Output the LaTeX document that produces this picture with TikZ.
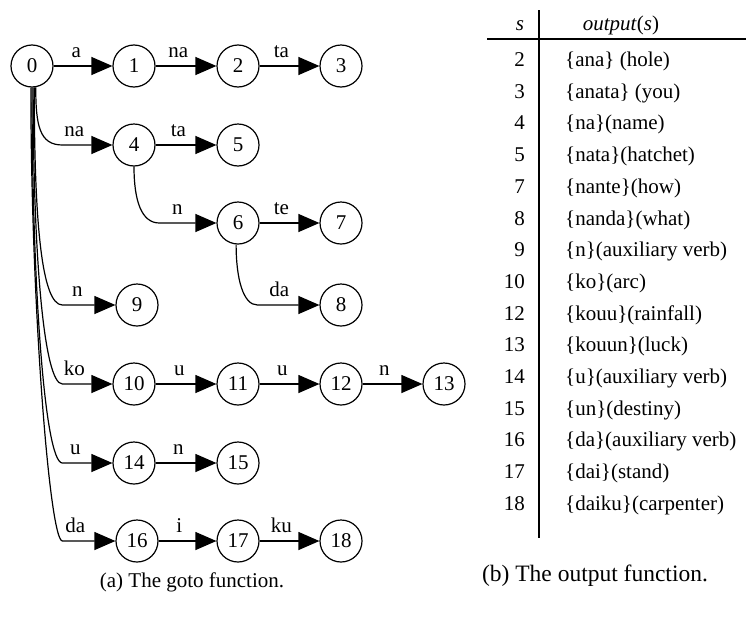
\documentclass[tikz,border=0pt]{standalone}
\usepackage{fontspec}
\setmainfont{Liberation Serif}
\usetikzlibrary{arrows.meta,calc}
\newcommand\bigfs{\fontsize{21}{25}\selectfont}
\newcommand\capbfs{\fontsize{23.5}{28}\selectfont}
\tikzset{
  st/.style={circle, draw, line width=1.2pt, minimum size=42pt, inner sep=0pt, font=\bigfs},
  edge/.style={line width=1.2pt, -{Triangle[length=21pt,width=18pt]}},
  lbl/.style={anchor=base, inner sep=0pt, font=\bigfs},
  tbl/.style={line width=1.5pt},
  cell/.style={inner sep=0pt, font=\bigfs},
}
\begin{document}
\begin{tikzpicture}[x=1pt,y=-1pt]
\useasboundingbox (0,0) rectangle (746,624);
% states
\node[st] (n0) at (32,66) {0};
\node[st] (n1) at (134,66) {1};
\node[st] (n2) at (238,66) {2};
\node[st] (n3) at (341,66) {3};
\node[st] (n4) at (134,145) {4};
\node[st] (n5) at (238,145) {5};
\node[st] (n6) at (238,223) {6};
\node[st] (n7) at (341,223) {7};
\node[st] (n9) at (137,305) {9};
\node[st] (n8) at (341,305) {8};
\node[st] (n10) at (134,384) {10};
\node[st] (n11) at (238,384) {11};
\node[st] (n12) at (341,384) {12};
\node[st] (n13) at (444,384) {13};
\node[st] (n14) at (134,463) {14};
\node[st] (n15) at (238,463) {15};
\node[st] (n16) at (137,541) {16};
\node[st] (n17) at (238,541) {17};
\node[st] (n18) at (341,541) {18};
% straight edges
\draw[edge] (n0) -- (n1);   \node[lbl] (l01) at ($(n1.west)+(-36,-9)$) {a};
\draw[edge] (n1) -- (n2);   \node[lbl] (l12) at ($(n2.west)+(-38,-9)$) {na};
\draw[edge] (n2) -- (n3);   \node[lbl] (l23) at ($(n3.west)+(-38,-9)$) {ta};
\draw[edge] (n4) -- (n5);   \node[lbl] (l45) at ($(n5.west)+(-38,-9)$) {ta};
\draw[edge] (n6) -- (n7);   \node[lbl] (l67) at ($(n7.west)+(-38,-9)$) {te};
\draw[edge] (n10) -- (n11); \node[lbl] (l1011) at ($(n11.west)+(-37,-9)$) {u};
\draw[edge] (n11) -- (n12); \node[lbl] (l1112) at ($(n12.west)+(-37,-9)$) {u};
\draw[edge] (n12) -- (n13); \node[lbl] (l1213) at ($(n13.west)+(-38,-9)$) {n};
\draw[edge] (n14) -- (n15); \node[lbl] (l1415) at ($(n15.west)+(-38,-9)$) {n};
\draw[edge] (n16) -- (n17); \node[lbl] (l1617) at ($(n17.west)+(-37,-9)$) {i};
\draw[edge] (n17) -- (n18); \node[lbl] (l1718) at ($(n18.west)+(-38,-9)$) {ku};
% curved edges
\coordinate (c4) at ($(n4.west)+(-50,0)$);
\coordinate (c6) at ($(n6.west)+(-57,0)$);
\coordinate (c8) at ($(n8.west)+(-62,0)$);
\coordinate (c9) at ($(n9.west)+(-53,0)$);
\coordinate (c10) at ($(n10.west)+(-50,0)$);
\coordinate (c14) at ($(n14.west)+(-50,0)$);
\coordinate (c16) at ($(n16.west)+(-53,0)$);
\draw[edge] (n0.-80) .. controls +(0,38) and +(-23,0) .. (c4) -- (n4.west);
\draw[edge] (n4.-90) .. controls +(0,34) and +(-18,0) .. (c6) -- (n6.west);
\draw[edge] (n6.-95) .. controls +(0,35) and +(-14,0) .. (c8) -- (n8.west);
\draw[edge] (n0.-84) .. controls +(0,133) and +(-21,0) .. (c9) -- (n9.west);
\draw[edge] (n0.-87) .. controls +(0,163) and +(-19,0) .. (c10) -- (n10.west);
\draw[edge] (n0.-90) .. controls +(0,193) and +(-18,0) .. (c14) -- (n14.west);
\draw[edge] (n0.-93) .. controls +(0,213) and +(-13,0) .. (c16) -- (n16.west);
\node[lbl] (l04) at ($(n4.west)+(-38,-9)$) {na};
\node[lbl] (l46) at ($(n6.west)+(-39,-9)$) {n};
\node[lbl] (l68) at ($(n8.west)+(-40,-9)$) {da};
\node[lbl] (l09) at ($(n9.west)+(-38,-9)$) {n};
\node[lbl] (l010) at ($(n10.west)+(-38,-9)$) {ko};
\node[lbl] (l014) at ($(n14.west)+(-37,-9)$) {u};
\node[lbl] (l016) at ($(n16.west)+(-40,-9)$) {da};
% table
\draw[tbl] (539,10) -- (539,538);
\draw[tbl] (487,39) -- (746,39);
\node[cell, anchor=base] (hs) at (520,30) {\textit{s}};
\node[cell, anchor=base] (ho) at (621,30) {\textit{output}(\textit{s})};
\node[cell, anchor=base east] (s0) at (525,66.5) {2};
\node[cell, anchor=base west] (o0) at (565,66.5) {\{ana\} (hole)};
\node[cell, anchor=base east] (s1) at (525,98.2) {3};
\node[cell, anchor=base west] (o1) at (565,98.2) {\{anata\} (you)};
\node[cell, anchor=base east] (s2) at (525,129.9) {4};
\node[cell, anchor=base west] (o2) at (565,129.9) {\{na\}(name)};
\node[cell, anchor=base east] (s3) at (525,161.6) {5};
\node[cell, anchor=base west] (o3) at (565,161.6) {\{nata\}(hatchet)};
\node[cell, anchor=base east] (s4) at (525,193.3) {7};
\node[cell, anchor=base west] (o4) at (565,193.3) {\{nante\}(how)};
\node[cell, anchor=base east] (s5) at (525,225.0) {8};
\node[cell, anchor=base west] (o5) at (565,225.0) {\{nanda\}(what)};
\node[cell, anchor=base east] (s6) at (525,256.7) {9};
\node[cell, anchor=base west] (o6) at (565,256.7) {\{n\}(auxiliary verb)};
\node[cell, anchor=base east] (s7) at (525,288.4) {10};
\node[cell, anchor=base west] (o7) at (565,288.4) {\{ko\}(arc)};
\node[cell, anchor=base east] (s8) at (525,320.1) {12};
\node[cell, anchor=base west] (o8) at (565,320.1) {\{kouu\}(rainfall)};
\node[cell, anchor=base east] (s9) at (525,351.8) {13};
\node[cell, anchor=base west] (o9) at (565,351.8) {\{kouun\}(luck)};
\node[cell, anchor=base east] (s10) at (525,383.5) {14};
\node[cell, anchor=base west] (o10) at (565,383.5) {\{u\}(auxiliary verb)};
\node[cell, anchor=base east] (s11) at (525,415.2) {15};
\node[cell, anchor=base west] (o11) at (565,415.2) {\{un\}(destiny)};
\node[cell, anchor=base east] (s12) at (525,446.9) {16};
\node[cell, anchor=base west] (o12) at (565,446.9) {\{da\}(auxiliary verb)};
\node[cell, anchor=base east] (s13) at (525,478.6) {17};
\node[cell, anchor=base west] (o13) at (565,478.6) {\{dai\}(stand)};
\node[cell, anchor=base east] (s14) at (525,510.3) {18};
\node[cell, anchor=base west] (o14) at (565,510.3) {\{daiku\}(carpenter)};
% captions
\node[cell, anchor=base] (capa) at (192,587) {(a) The goto function.};
\node[inner sep=0pt, font=\capbfs, anchor=base] (capb) at (595,581) {(b) The output function.};
\end{tikzpicture}
\end{document}
